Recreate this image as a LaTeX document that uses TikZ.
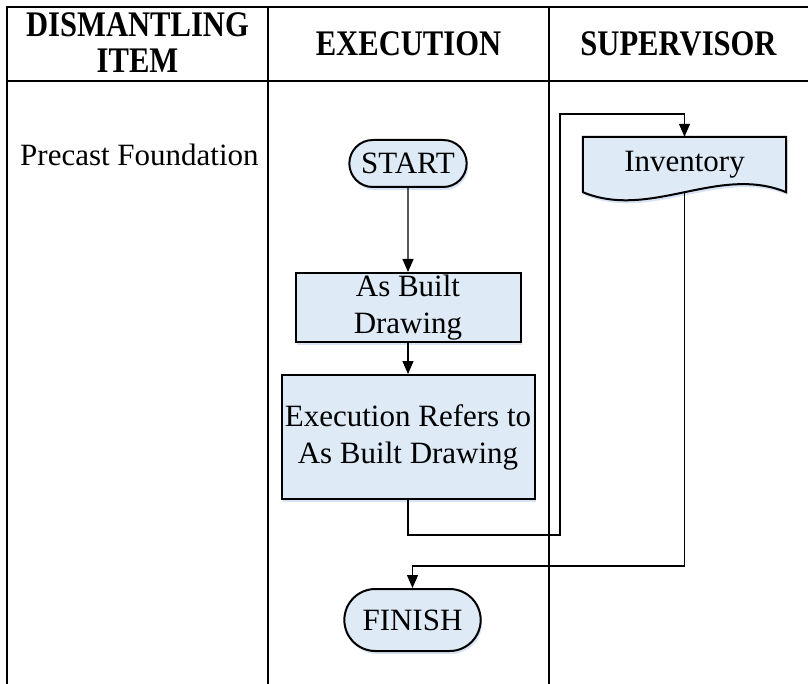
\documentclass[tikz,border=0pt]{standalone}
\usepackage{fontspec}
\setmainfont{Liberation Serif}
\newfontfamily\headfont[FakeStretch=0.85]{Liberation Serif}
\usetikzlibrary{shapes.geometric, shapes.misc, arrows.meta, shadows, backgrounds}
\definecolor{boxblue}{RGB}{222,235,247}
\definecolor{shadeblue}{RGB}{190,210,238}
\tikzstyle{lane} = [line width=2pt, line cap=rect]
\tikzstyle{head} = [font=\headfont\bfseries\fontsize{36}{36}\selectfont, align=center]
\tikzstyle{terminal} = [rounded rectangle, draw=black, line width=2pt, fill=boxblue, drop shadow={shadow xshift=1.5pt, shadow yshift=-3pt, fill=shadeblue, opacity=0.6}, font=\fontsize{31}{37}\selectfont]
\tikzstyle{process} = [rectangle, draw=black, line width=2pt, fill=boxblue, align=center, inner sep=1pt, drop shadow={shadow xshift=1.5pt, shadow yshift=-3pt, fill=shadeblue, opacity=0.6}, font=\fontsize{31}{37}\selectfont]
\tikzstyle{arrow} = [line width=1.3pt, -{Triangle[length=13pt,width=11pt]}]

\begin{document}
\begin{tikzpicture}[x=1pt, y=-1pt, node distance=130pt]
    \useasboundingbox (0,0) rectangle (808,684);
    % swimlane table
    \draw [lane] (7,684) -- (7,7) -- (808,7);
    \draw [lane] (7,81) -- (808,81);
    \draw [lane] (268,7) -- (268,684);
    \draw [lane] (549,7) -- (549,684);
    \node (hitem) [head] at (137.5,43) {DISMANTLING\\ITEM};
    \node (hexec) [head] at (408.5,44) {EXECUTION};
    \node (hsup) [head] at (678.5,44) {SUPERVISOR};
    \node (item) [anchor=base west, inner sep=0pt, font=\fontsize{31}{37}\selectfont] at (20,166) {Precast Foundation};
    % flow
    \node (start) [terminal, minimum width=124pt, minimum height=47pt] at (408,163.5) {START};
    \node (asb) [process, below of=start, node distance=144pt, minimum width=225pt, minimum height=69pt] {As Built\\Drawing};
    \node (exec) [process, below of=asb, node distance=129.5pt, minimum width=253pt, minimum height=124pt] {Execution Refers to\\As Built Drawing};
    \node (finish) [terminal, below of=exec, node distance=183pt, xshift=4.5pt, minimum width=143pt, minimum height=62pt] {FINISH};
    \node (inv) [rectangle, minimum width=203pt, minimum height=55pt, font=\fontsize{31}{37}\selectfont] at (684.5,164.5) {Inventory};
    \begin{scope}[on background layer]
        \draw [line width=2pt, fill=boxblue, drop shadow={shadow xshift=1.5pt, shadow yshift=-3pt, fill=shadeblue, opacity=0.6}] (inv.north west) -- (inv.north east) -- (inv.south east) .. controls +(-68,-28) and +(68,28) .. (inv.south west) -- cycle;
    \end{scope}
    \coordinate (lowbend) at (560,535);
    \coordinate (highbend) at (560,114);
    \coordinate (backbend) at (412.5,566);
    \draw [arrow] (start) -- (asb);
    \draw [arrow] (asb) -- (exec);
    \draw [arrow] (exec.south) |- (lowbend) -- (highbend) -| (inv.north);
    \draw [arrow] (inv.south) |- (backbend) -- (finish.north);
\end{tikzpicture}
\end{document}
